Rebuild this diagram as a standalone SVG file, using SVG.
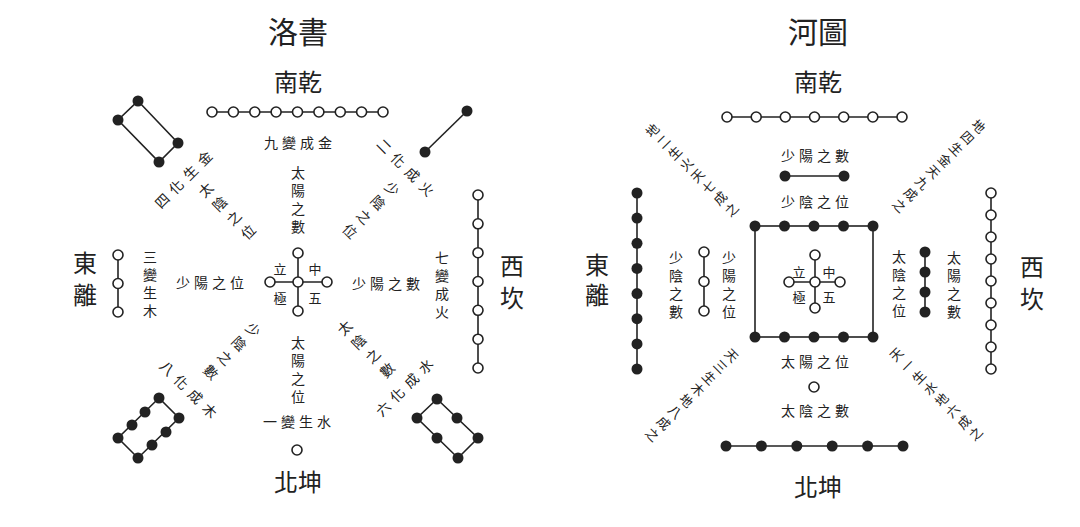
<svg xmlns="http://www.w3.org/2000/svg" width="1080" height="527" viewBox="0 0 1080 527">
<style>
.t{font-family:"Noto Sans CJK TC","Noto Sans CJK SC",sans-serif;fill:#222;text-anchor:middle;dominant-baseline:central}
.title{font-size:30px}
.dir{font-size:24px}
.s{font-size:14px;letter-spacing:4px}
.d{font-size:14px;letter-spacing:6px}
.r{font-size:13px;letter-spacing:3px}
.c{font-size:13px}
.v{writing-mode:tb}
.o{fill:#fff;stroke:#222;stroke-width:1.6}
.f{fill:#222;stroke:none}
.ln{stroke:#222;stroke-width:1.6;fill:none}
</style>
<rect width="1080" height="527" fill="#fff"/>
<g id="connectors" class="ln">
<line x1="212" y1="112" x2="383" y2="112"/>
<line x1="118" y1="255" x2="118" y2="312"/>
<line x1="478" y1="195" x2="478" y2="368"/>
<line x1="298" y1="253" x2="298" y2="311"/>
<line x1="270" y1="282" x2="327" y2="282"/>
<polygon points="138,101 178,143 159,162 118,120"/>
<line x1="467" y1="111" x2="425" y2="152"/>
<polygon points="159,398 179,418 138,458 118,438"/>
<polygon points="437,399 478,438 458,458 417,418"/>
<line x1="727" y1="117" x2="902" y2="117"/>
<line x1="785" y1="176" x2="844" y2="176"/>
<rect x="755" y="226" width="118" height="111"/>
<line x1="815" y1="255" x2="815" y2="308"/>
<line x1="789" y1="282" x2="840" y2="282"/>
<line x1="726" y1="446" x2="903" y2="446"/>
<line x1="637" y1="193" x2="637" y2="369"/>
<line x1="704" y1="252" x2="704" y2="311"/>
<line x1="925" y1="252" x2="925" y2="312"/>
<line x1="991" y1="193" x2="991" y2="369"/>
</g>
<g id="luoshu-title"><text class="t title" x="298" y="30">洛書</text></g>
<g id="luoshu-south">
<text class="t dir" x="298" y="80">南乾</text>
<circle class="o" cx="212" cy="112" r="5"/><circle class="o" cx="233.4" cy="112" r="5"/><circle class="o" cx="254.8" cy="112" r="5"/><circle class="o" cx="276.1" cy="112" r="5"/><circle class="o" cx="297.5" cy="112" r="5"/><circle class="o" cx="318.9" cy="112" r="5"/><circle class="o" cx="340.3" cy="112" r="5"/><circle class="o" cx="361.6" cy="112" r="5"/><circle class="o" cx="383" cy="112" r="5"/>
<text class="t s" x="300" y="142">九變成金</text>
<text class="t s v" x="298" y="202">太陽之數</text>
</g>
<g id="luoshu-north">
<text class="t s v" x="298" y="372">太陽之位</text>
<text class="t s" x="299" y="421">一變生水</text>
<circle class="o" cx="297" cy="450" r="5"/>
<text class="t dir" x="298" y="480">北坤</text>
</g>
<g id="luoshu-east">
<text class="t dir v" x="85" y="283" style="letter-spacing:8px">東離</text>
<circle class="o" cx="118" cy="255" r="5"/><circle class="o" cx="118" cy="283.5" r="5"/><circle class="o" cx="118" cy="312" r="5"/>
<text class="t s v" x="150" y="286">三變生木</text>
<text class="t s" x="212" y="282">少陽之位</text>
</g>
<g id="luoshu-west">
<text class="t s" x="388" y="283">少陽之數</text>
<text class="t s v" x="442" y="287">七變成火</text>
<circle class="o" cx="478" cy="195" r="5"/><circle class="o" cx="478" cy="223.8" r="5"/><circle class="o" cx="478" cy="252.7" r="5"/><circle class="o" cx="478" cy="281.5" r="5"/><circle class="o" cx="478" cy="310.3" r="5"/><circle class="o" cx="478" cy="339.2" r="5"/><circle class="o" cx="478" cy="368" r="5"/>
<text class="t dir v" x="512" y="286" style="letter-spacing:8px">西坎</text>
</g>
<g id="luoshu-center">
<circle class="o" cx="298" cy="253" r="5"/><circle class="o" cx="298" cy="311" r="5"/><circle class="o" cx="270" cy="282" r="5"/><circle class="o" cx="327" cy="282" r="5"/><circle class="o" cx="298" cy="282" r="5"/>
<text class="t c" x="280" y="268">立</text><text class="t c" x="315" y="268">中</text>
<text class="t c" x="280" y="297">極</text><text class="t c" x="315" y="297">五</text>
</g>
<g id="luoshu-four">
<circle class="f" cx="138" cy="101" r="5.5"/><circle class="f" cx="178" cy="143" r="5.5"/><circle class="f" cx="159" cy="162" r="5.5"/><circle class="f" cx="118" cy="120" r="5.5"/>
<text class="t d" transform="translate(185,177) rotate(-45)">四化生金</text>
<text class="t d v" transform="translate(229,213) rotate(-45)">太陰之位</text>
</g>
<g id="luoshu-two">
<circle class="f" cx="467" cy="111" r="5.5"/><circle class="f" cx="425" cy="152" r="5.5"/>
<text class="t d" transform="translate(408,169) rotate(45)">二化成火</text>
<text class="t d v" transform="translate(369,212) rotate(45)">少陰之位</text>
</g>
<g id="luoshu-eight">
<circle class="f" cx="159" cy="398" r="5.5"/><circle class="f" cx="145" cy="412" r="5.5"/><circle class="f" cx="132" cy="425" r="5.5"/><circle class="f" cx="118" cy="438" r="5.5"/>
<circle class="f" cx="179" cy="418" r="5.5"/><circle class="f" cx="166" cy="432" r="5.5"/><circle class="f" cx="152" cy="445" r="5.5"/><circle class="f" cx="138" cy="458" r="5.5"/>
<text class="t d" transform="translate(191,391) rotate(45)">八化成木</text>
<text class="t d v" transform="translate(230,353) rotate(45)">少陰之數</text>
</g>
<g id="luoshu-six">
<circle class="f" cx="437" cy="399" r="5.5"/><circle class="f" cx="457" cy="418" r="5.5"/><circle class="f" cx="478" cy="438" r="5.5"/>
<circle class="f" cx="417" cy="418" r="5.5"/><circle class="f" cx="437" cy="438" r="5.5"/><circle class="f" cx="458" cy="458" r="5.5"/>
<text class="t d v" transform="translate(368,351) rotate(-45)">太陰之數</text>
<text class="t d" transform="translate(406,385) rotate(-45)">六化成水</text>
</g>
<g id="hetu-title"><text class="t title" x="818" y="30">河圖</text></g>
<g id="hetu-south">
<text class="t dir" x="818" y="80">南乾</text>
<circle class="o" cx="727" cy="117" r="5"/><circle class="o" cx="756.2" cy="117" r="5"/><circle class="o" cx="785.3" cy="117" r="5"/><circle class="o" cx="814.5" cy="117" r="5"/><circle class="o" cx="843.7" cy="117" r="5"/><circle class="o" cx="872.8" cy="117" r="5"/><circle class="o" cx="902" cy="117" r="5"/>
<text class="t s" x="817" y="155">少陽之數</text>
<circle class="f" cx="785" cy="176" r="5.5"/><circle class="f" cx="844" cy="176" r="5.5"/>
<text class="t s" x="817" y="201">少陰之位</text>
</g>
<g id="hetu-center">
<circle class="f" cx="755" cy="226" r="5.5"/><circle class="f" cx="784.5" cy="226" r="5.5"/><circle class="f" cx="814" cy="226" r="5.5"/><circle class="f" cx="843.5" cy="226" r="5.5"/><circle class="f" cx="873" cy="226" r="5.5"/>
<circle class="f" cx="755" cy="337" r="5.5"/><circle class="f" cx="784.5" cy="337" r="5.5"/><circle class="f" cx="814" cy="337" r="5.5"/><circle class="f" cx="843.5" cy="337" r="5.5"/><circle class="f" cx="873" cy="337" r="5.5"/>
<circle class="o" cx="815" cy="255" r="5"/><circle class="o" cx="815" cy="308" r="5"/><circle class="o" cx="789" cy="282" r="5"/><circle class="o" cx="840" cy="282" r="5"/><circle class="o" cx="815" cy="282" r="5"/>
<text class="t c" x="799" y="271">立</text><text class="t c" x="829" y="271">中</text>
<text class="t c" x="799" y="296">極</text><text class="t c" x="829" y="296">五</text>
</g>
<g id="hetu-north">
<text class="t s" x="817" y="361">太陽之位</text>
<circle class="o" cx="814" cy="387" r="5"/>
<text class="t s" x="817" y="410">太陰之數</text>
<circle class="f" cx="726" cy="446" r="5.5"/><circle class="f" cx="761.4" cy="446" r="5.5"/><circle class="f" cx="796.8" cy="446" r="5.5"/><circle class="f" cx="832.2" cy="446" r="5.5"/><circle class="f" cx="867.6" cy="446" r="5.5"/><circle class="f" cx="903" cy="446" r="5.5"/>
<text class="t dir" x="818" y="485">北坤</text>
</g>
<g id="hetu-east">
<text class="t dir v" x="597" y="283" style="letter-spacing:6px">東離</text>
<circle class="f" cx="637" cy="193" r="5.5"/><circle class="f" cx="637" cy="218.1" r="5.5"/><circle class="f" cx="637" cy="243.3" r="5.5"/><circle class="f" cx="637" cy="268.4" r="5.5"/><circle class="f" cx="637" cy="293.6" r="5.5"/><circle class="f" cx="637" cy="318.7" r="5.5"/><circle class="f" cx="637" cy="343.9" r="5.5"/><circle class="f" cx="637" cy="369" r="5.5"/>
<text class="t s v" x="676" y="287">少陰之數</text>
<circle class="o" cx="704" cy="252" r="5"/><circle class="o" cx="704" cy="281.5" r="5"/><circle class="o" cx="704" cy="311" r="5"/>
<text class="t s v" x="729" y="287">少陽之位</text>
</g>
<g id="hetu-west">
<text class="t s v" x="899" y="286">太陰之位</text>
<circle class="f" cx="925" cy="252" r="5.5"/><circle class="f" cx="925" cy="272" r="5.5"/><circle class="f" cx="925" cy="292" r="5.5"/><circle class="f" cx="925" cy="312" r="5.5"/>
<text class="t s v" x="954" y="287">太陽之數</text>
<circle class="o" cx="991" cy="193" r="5"/><circle class="o" cx="991" cy="215" r="5"/><circle class="o" cx="991" cy="237" r="5"/><circle class="o" cx="991" cy="259" r="5"/><circle class="o" cx="991" cy="281" r="5"/><circle class="o" cx="991" cy="303" r="5"/><circle class="o" cx="991" cy="325" r="5"/><circle class="o" cx="991" cy="347" r="5"/><circle class="o" cx="991" cy="369" r="5"/>
<text class="t dir v" x="1032" y="287" style="letter-spacing:8px">西坎</text>
</g>
<g id="hetu-diagonals">
<text class="t r v" transform="translate(693,171) rotate(-45)">地二生火天七成之</text>
<text class="t r v" transform="translate(938,167) rotate(45)">地四生金天九成之</text>
<text class="t r v" transform="translate(691,396) rotate(45)">天三生木地八成之</text>
<text class="t r v" transform="translate(937,395) rotate(-45)">天一生水地六成之</text>
</g>
</svg>
